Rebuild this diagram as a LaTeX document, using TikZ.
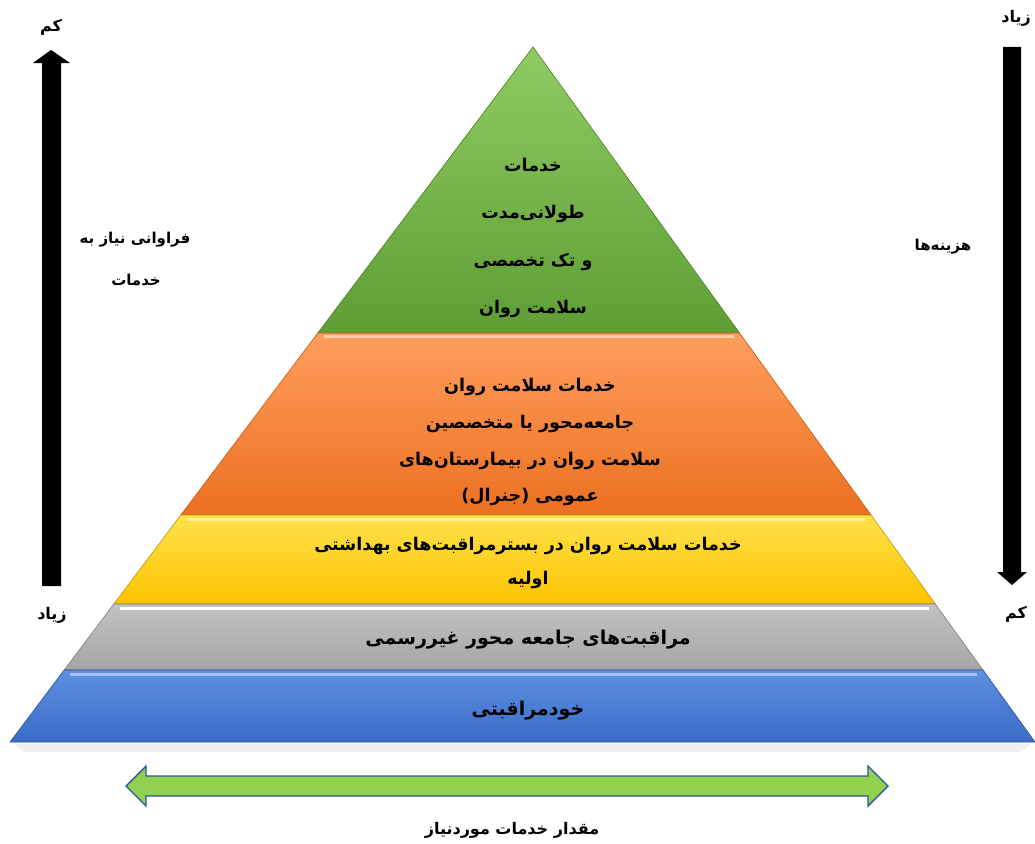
\documentclass[tikz,border=0pt]{standalone}
\usepackage{fontspec}
\usetikzlibrary{calc}
\newfontfamily\fa[Script=Arabic]{DejaVu Sans}
\TeXXeTstate=1
\definecolor{gtop}{HTML}{8FCB63}
\definecolor{gbot}{HTML}{5E9E35}
\definecolor{otop}{HTML}{FF9E5E}
\definecolor{obot}{HTML}{EC7020}
\definecolor{ytop}{HTML}{FFE24A}
\definecolor{ybot}{HTML}{FCC300}
\definecolor{stop}{HTML}{C2C2C2}
\definecolor{sbot}{HTML}{A5A5A5}
\definecolor{btop}{HTML}{5D8FE2}
\definecolor{bbot}{HTML}{3A6CC6}
\definecolor{arrgreen}{HTML}{92D050}
\definecolor{arrblue}{HTML}{2F5597}
\tikzset{
  lbl/.style={font=\fa\bfseries\fontsize{17.5}{20}\selectfont, inner sep=0pt, text=black},
  big/.style={font=\fa\bfseries\fontsize{19}{22}\selectfont, inner sep=0pt, text=black},
  side/.style={font=\fa\bfseries\fontsize{15}{17}\selectfont, inner sep=0pt, text=black},
  corner/.style={font=\fa\bfseries\fontsize{16}{18}\selectfont, inner sep=0pt, text=black},
  edge/.style={line width=0.6pt},
}
\begin{document}
\begin{tikzpicture}[x=1pt,y=-1pt]
\useasboundingbox (0,0) rectangle (1035,843);
\fill[white] (0,0) rectangle (1035,843);
\coordinate (apex) at (533,47);
\coordinate (bl) at (10,742);
\coordinate (br) at (1035,742);
% fractions along sides
\coordinate (l1) at ($(apex)!0.4115!(bl)$);
\coordinate (r1) at ($(apex)!0.4115!(br)$);
\coordinate (l2) at ($(apex)!0.6734!(bl)$);
\coordinate (r2) at ($(apex)!0.6734!(br)$);
\coordinate (l3) at ($(apex)!0.8014!(bl)$);
\coordinate (r3) at ($(apex)!0.8014!(br)$);
\coordinate (l4) at ($(apex)!0.8964!(bl)$);
\coordinate (r4) at ($(apex)!0.8964!(br)$);
% shadow
\fill[black!6] ($(bl)+(4,2)$) -- ($(br)+(-4,2)$) -- ($(br)+(-14,10)$) -- ($(bl)+(14,10)$) -- cycle;
% layers
\shade[top color=gtop, bottom color=gbot] (apex) -- (r1) -- (l1) -- cycle;
\draw[gbot!80!black, edge] (apex) -- (r1) -- (l1) -- cycle;
\shade[top color=otop, bottom color=obot] (l1) -- (r1) -- (r2) -- (l2) -- cycle;
\draw[obot!80!black, edge] (l1) -- (r1) -- (r2) -- (l2) -- cycle;
\shade[top color=ytop, bottom color=ybot] (l2) -- (r2) -- (r3) -- (l3) -- cycle;
\draw[ybot!75!black, edge] (l2) -- (r2) -- (r3) -- (l3) -- cycle;
\shade[top color=stop, bottom color=sbot] (l3) -- (r3) -- (r4) -- (l4) -- cycle;
\draw[sbot!75!black, edge] (l3) -- (r3) -- (r4) -- (l4) -- cycle;
\shade[top color=btop, bottom color=bbot] (l4) -- (r4) -- (br) -- (bl) -- cycle;
\draw[bbot!75!black, edge] (l4) -- (r4) -- (br) -- (bl) -- cycle;
% bevel highlights
\draw[white!50!otop, line width=3pt] ($(l1)+(6,4)$) -- ($(r1)+(-6,4)$);
\draw[white!45!ytop, line width=3pt] ($(l2)+(6,4)$) -- ($(r2)+(-6,4)$);
\draw[white, line width=3pt] ($(l3)+(6,5)$) -- ($(r3)+(-6,5)$);
\draw[white!45!btop, line width=3pt] ($(l4)+(6,4)$) -- ($(r4)+(-6,4)$);
% texts in pyramid
\node[lbl] (g1) at (533,165) {\beginR خدمات\endR};
\node[lbl] (g2) at (533,214) {\beginR طولانی‌مدت\endR};
\node[lbl] (g3) at (533,262) {\beginR و تک تخصصی\endR};
\node[lbl] (g4) at (533,309) {\beginR سلامت روان\endR};
\node[lbl] (o1) at (530,387) {\beginR خدمات سلامت روان\endR};
\node[lbl] (o2) at (530,424) {\beginR جامعه‌محور یا متخصصین\endR};
\node[lbl] (o3) at (530,461) {\beginR سلامت روان در بیمارستان‌های\endR};
\node[lbl] (o4) at (530,497) {\beginR عمومی (جنرال)\endR};
\node[lbl] (y1) at (528,546) {\beginR خدمات سلامت روان در بسترمراقبت‌های بهداشتی\endR};
\node[lbl] (y2) at (528,580) {\beginR اولیه\endR};
\node[big] (s1) at (528,640) {\beginR مراقبت‌های جامعه محور غیررسمی\endR};
\node[big] (b1) at (528,711) {\beginR خودمراقبتی\endR};
% left black arrow (up)
\fill[black] (42,586) -- (42,63) -- (33,63) -- (51,50) -- (70,63) -- (61,63) -- (61,586) -- cycle;
% right black arrow (down)
\fill[black] (1003,47) -- (1003,572) -- (997,572) -- (1012,585) -- (1027,572) -- (1021,572) -- (1021,47) -- cycle;
% side labels
\node[corner] (lk) at (51,27) {\beginR کم\endR};
\node[corner] (lz) at (52,615) {\beginR زیاد\endR};
\node[corner] (rz) at (1016,18) {\beginR زیاد\endR};
\node[corner] (rk) at (1016,614) {\beginR کم\endR};
\node[side] (lf1) at (135,240) {\beginR فراوانی نیاز به\endR};
\node[side] (lf2) at (136,280) {\beginR خدمات\endR};
\node[side] (rh) at (943,247) {\beginR هزینه‌ها\endR};
% bottom double arrow
\filldraw[fill=arrgreen, draw=arrblue, line width=1.4pt, line join=miter]
  (126,786) -- (146,766) -- (146,776) -- (868,776) -- (868,766) -- (888,786)
  -- (868,806) -- (868,796) -- (146,796) -- (146,806) -- cycle;
\node[side, font=\fa\bfseries\fontsize{16}{18}\selectfont] (bt) at (512,830) {\beginR مقدار خدمات موردنیاز\endR};
\end{tikzpicture}
\end{document}
